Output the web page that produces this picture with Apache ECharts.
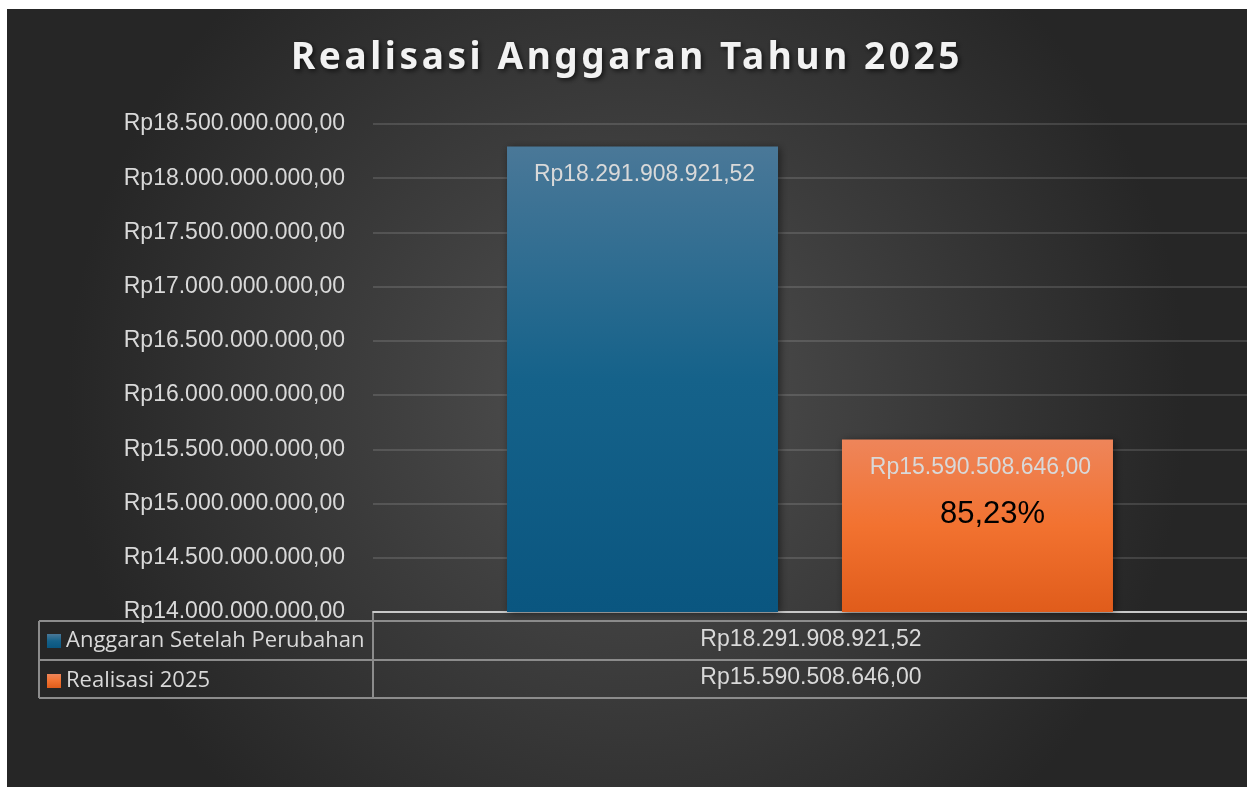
<!DOCTYPE html>
<html>
<head>
<meta charset="utf-8">
<title>Realisasi Anggaran Tahun 2025</title>
<script src="https://cdn.jsdelivr.net/npm/echarts@6/dist/echarts.min.js"></script>
<style>
  html, body { margin: 0; padding: 0; background: #ffffff; }
  #chart { position: absolute; left: 7px; top: 9px; width: 1240px; height: 778px; }
</style>
</head>
<body>
<div id="chart"></div>
<script>
// data
const categories = ['2025'];
const seriesNames = ['Anggaran Setelah Perubahan', 'Realisasi 2025'];
const anggaran = [18291908921.52];
const realisasi = [15590508646.00];
const yMin = 14000000000;
const yMax = 18500000000;
const yStep = 500000000;

const formatRp = (v) => {
  const parts = Number(v).toFixed(2).split('.');
  const whole = parts[0].replace(/\B(?=(\d{3})+(?!\d))/g, '.');
  return 'Rp' + whole + ',' + parts[1];
};

const pct = (realisasi[0] / anggaran[0] * 100).toFixed(2).replace('.', ',') + '%';

const numFont = 'Liberation Sans, Arial, sans-serif';
const titleFont = 'Noto Sans';
const textColor = '#d9d9d9';
const lineColor = '#8c8c8c';

// the title in the reference is letter-spaced; zrender has no option for it,
// so give the canvas context some letterSpacing whenever the title font is set
const fontDesc = Object.getOwnPropertyDescriptor(CanvasRenderingContext2D.prototype, 'font');
if (fontDesc && 'letterSpacing' in CanvasRenderingContext2D.prototype) {
  Object.defineProperty(CanvasRenderingContext2D.prototype, 'font', {
    configurable: true,
    get() { return fontDesc.get.call(this); },
    set(v) {
      fontDesc.set.call(this, v);
      this.letterSpacing = String(v).indexOf(titleFont) >= 0 ? '3.6px' : '0px';
    }
  });
}

const chart = echarts.init(document.getElementById('chart'), null, { renderer: 'canvas' });

const tableLine = (x1, y1, x2, y2) => ({
  type: 'line',
  shape: { x1: x1, y1: y1, x2: x2, y2: y2 },
  style: { stroke: lineColor, lineWidth: 2 },
  silent: true
});

const tableText = (text, y) => ({
  type: 'text',
  x: 804,
  y: y,
  style: {
    text: text,
    fill: textColor,
    font: '23px ' + numFont,
    align: 'center',
    verticalAlign: 'middle'
  },
  silent: true
});

const option = {
  backgroundColor: {
    type: 'radial',
    x: 0.5, y: 0.5, r: 0.72,
    colorStops: [
      { offset: 0, color: '#515151' },
      { offset: 1, color: '#262626' }
    ]
  },
  title: {
    text: 'Realisasi Anggaran Tahun 2025',
    left: 'center',
    top: 24,
    textStyle: {
      color: '#f2f2f2',
      fontSize: 37,
      fontWeight: 'bold',
      fontFamily: titleFont,
      textShadowColor: 'rgba(0,0,0,0.65)',
      textShadowBlur: 5,
      textShadowOffsetX: 2,
      textShadowOffsetY: 2
    }
  },
  legend: {
    orient: 'vertical',
    left: 40,
    top: 621,
    padding: 0,
    itemWidth: 14,
    itemHeight: 14,
    itemGap: 18,
    icon: 'rect',
    selectedMode: false,
    textStyle: {
      color: textColor,
      fontSize: 22,
      lineHeight: 20,
      fontFamily: 'Open Sans, sans-serif'
    },
    data: seriesNames
  },
  grid: { left: 366, right: 0, top: 115, bottom: 175, containLabel: false },
  xAxis: {
    type: 'category',
    data: categories,
    axisTick: { show: false },
    axisLabel: { show: false },
    axisLine: { show: true, lineStyle: { color: '#c8c8c8', width: 2 } }
  },
  yAxis: {
    type: 'value',
    min: yMin,
    max: yMax,
    interval: yStep,
    axisLine: { show: false },
    axisTick: { show: false },
    axisLabel: {
      margin: 28,
      color: textColor,
      fontSize: 23,
      fontFamily: numFont,
      formatter: formatRp
    },
    splitLine: { lineStyle: { color: 'rgba(255,255,255,0.13)', width: 2 } }
  },
  series: [
    {
      name: seriesNames[0],
      type: 'bar',
      data: anggaran,
      barWidth: 271,
      barGap: '23.6%',
      itemStyle: {
        color: new echarts.graphic.LinearGradient(0, 0, 0, 1, [
          { offset: 0, color: '#4a7898' },
          { offset: 0.5, color: '#15628a' },
          { offset: 1, color: '#0a5680' }
        ]),
        shadowColor: 'rgba(0,0,0,0.5)',
        shadowBlur: 8,
        shadowOffsetX: 2,
        shadowOffsetY: 1
      },
      label: {
        show: true,
        position: 'insideTop',
        distance: 16,
        offset: [2, 0],
        color: textColor,
        fontSize: 23,
        lineHeight: 24,
        fontFamily: numFont,
        formatter: (p) => formatRp(p.value)
      }
    },
    {
      name: seriesNames[1],
      type: 'bar',
      data: realisasi,
      barWidth: 271,
      itemStyle: {
        color: new echarts.graphic.LinearGradient(0, 0, 0, 1, [
          { offset: 0, color: '#ee855a' },
          { offset: 0.5, color: '#f27230' },
          { offset: 1, color: '#e05c1b' }
        ]),
        shadowColor: 'rgba(0,0,0,0.5)',
        shadowBlur: 8,
        shadowOffsetX: 2,
        shadowOffsetY: 1
      },
      label: {
        show: true,
        position: 'insideTop',
        distance: 16,
        offset: [3, 0],
        fontFamily: numFont,
        formatter: (p) => '{v|' + formatRp(p.value) + '}\n{p|' + pct + '}',
        rich: {
          v: { color: textColor, fontSize: 23, lineHeight: 24, fontFamily: numFont },
          p: { color: '#000000', fontSize: 31, lineHeight: 70, fontFamily: numFont, padding: [0, 0, 0, 24] }
        }
      }
    }
  ],
  graphic: [
    // data table under the plot
    tableLine(32, 612, 1240, 612),
    tableLine(32, 651, 1240, 651),
    tableLine(32, 689, 1240, 689),
    tableLine(32, 612, 32, 689),
    tableLine(366, 604, 366, 689),
    tableText(formatRp(anggaran[0]), 631),
    tableText(formatRp(realisasi[0]), 669)
  ]
};

chart.setOption(option);

window.addEventListener('resize', () => {
  chart.resize();
});
</script>
</body>
</html>
